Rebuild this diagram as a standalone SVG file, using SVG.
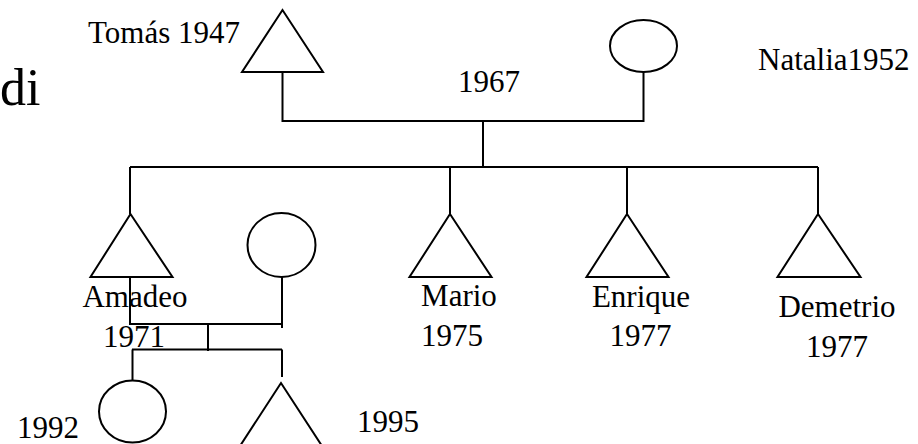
<svg xmlns="http://www.w3.org/2000/svg" width="918" height="444" viewBox="0 0 918 444">
<style>
.s{fill:none;stroke:#000;stroke-width:2}
text{font-family:"Liberation Serif","Times New Roman","DejaVu Serif",serif;font-size:31px;fill:#000}
.c{text-anchor:middle}
.big{font-size:52px}
</style>
<rect width="918" height="444" fill="#fff"/>
<text class="big" x="0" y="105">di</text>
<g id="connectors" class="s">
<polyline points="282.5,72 282.5,121 643.5,121 643.5,72"/>
<line x1="483" y1="121" x2="483" y2="167"/>
<line x1="130" y1="167" x2="818" y2="167"/>
<line x1="130" y1="167" x2="130" y2="214"/>
<line x1="450" y1="167" x2="450" y2="214"/>
<line x1="627" y1="167" x2="627" y2="214"/>
<line x1="818" y1="167" x2="818" y2="214"/>
<polyline points="130,277 130,324 282,324"/>
<line x1="282" y1="277" x2="282" y2="328"/>
<line x1="208" y1="324" x2="208" y2="351"/>
<line x1="132" y1="349.5" x2="282" y2="349.5"/>
<line x1="132.5" y1="349.5" x2="132.5" y2="380"/>
<line x1="282" y1="349.5" x2="282" y2="377"/>
</g>
<g id="tomas">
<polygon class="s" points="282.5,10 242,72 323,72"/>
<text x="88" y="43">Tomás 1947</text>
</g>
<g id="natalia">
<ellipse class="s" cx="643.5" cy="46" rx="33.5" ry="26"/>
<text x="758" y="70">Natalia1952</text>
</g>
<g id="marriage1967">
<text x="458" y="92">1967</text>
</g>
<g id="amadeo">
<polygon class="s" points="130.5,214 90.5,277 172.5,277"/>
<text class="c" x="135" y="307">Amadeo</text>
<text class="c" x="134" y="347">1971</text>
</g>
<g id="esposa">
<ellipse class="s" cx="281.5" cy="245" rx="34" ry="32"/>
</g>
<g id="mario">
<polygon class="s" points="450,214 409.5,277 491.5,277"/>
<text class="c" x="459" y="306">Mario</text>
<text class="c" x="452" y="346">1975</text>
</g>
<g id="enrique">
<polygon class="s" points="627,214 586.5,277 668.5,277"/>
<text class="c" x="641" y="307">Enrique</text>
<text class="c" x="640.5" y="346">1977</text>
</g>
<g id="demetrio">
<polygon class="s" points="818,214 777.5,277 860.5,277"/>
<text class="c" x="837" y="317">Demetrio</text>
<text class="c" x="837" y="357">1977</text>
</g>
<g id="hija1992">
<ellipse class="s" cx="132.5" cy="411.5" rx="33.5" ry="31"/>
<text x="17" y="438">1992</text>
</g>
<g id="hijo1995">
<polygon class="s" points="281,383 240,446 322,446"/>
<text x="357" y="432">1995</text>
</g>
</svg>
